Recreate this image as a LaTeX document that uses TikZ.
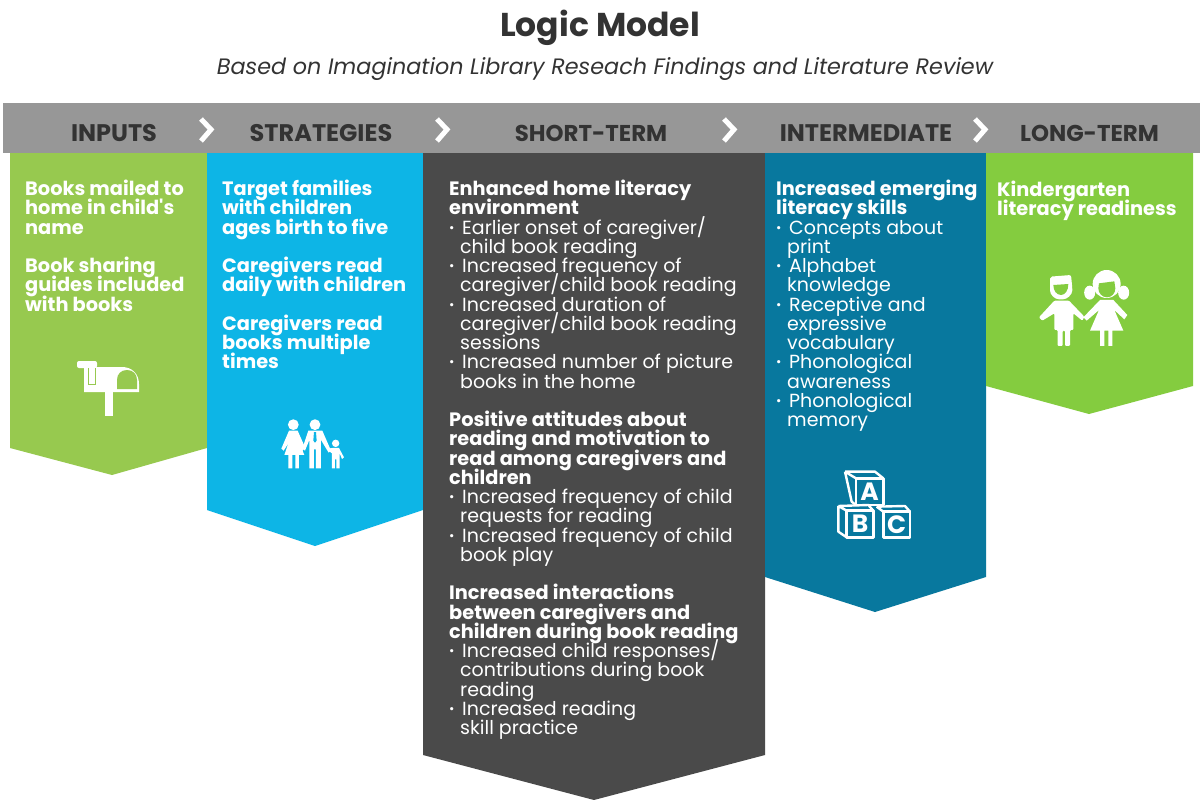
\documentclass[tikz,border=0pt]{standalone}
\usepackage{fontspec}
\setmainfont{Poppins}[Ligatures=TeXOff]
\definecolor{barc}{HTML}{979797}
\definecolor{greena}{HTML}{97C94F}
\definecolor{bluea}{HTML}{0DB5E6}
\definecolor{darka}{HTML}{4A4A4A}
\definecolor{teala}{HTML}{08789E}
\definecolor{greenb}{HTML}{84CC3F}
\definecolor{headc}{HTML}{333333}
\newcommand{\bodyf}{\fontsize{19}{19.25}\selectfont\lineskiplimit=-100pt\lineskip=0pt}
\newcommand{\bb}{\fontsize{19.35}{19.25}\selectfont\bfseries}
\newcommand{\bl}{\makebox[13pt][l]{\raisebox{2pt}{\fontsize{13}{13}\selectfont\textbullet}}}
\newcommand{\hg}{\hspace*{11pt}}
\tikzset{
  head/.style={font=\fontsize{24}{26}\selectfont\bfseries,text=headc,inner sep=0,anchor=center},
  headn/.style={head,font=\fontsize{22.9}{26}\selectfont\bfseries},
  col/.style={text=white,inner sep=0,anchor=north west,align=left,font=\bodyf},
  chev/.style={draw=white,line width=5pt,miter limit=10},
  blk/.style={draw=white,line width=2.4pt,line join=round,fill=none},
  letter/.style={text=white,inner sep=0,font=\fontsize{25}{25}\selectfont\bfseries}
}
\begin{document}
\begin{tikzpicture}[x=1pt,y=-1pt]
\useasboundingbox (0,0) rectangle (1200,800);
\fill[white] (0,0) rectangle (1200,800);
% columns
\fill[greena] (10,153) -- (207,153) -- (207,448) -- (112,475) -- (10,448) -- cycle;
\fill[bluea] (207,153) -- (423,153) -- (423,510) -- (315,546) -- (207,510) -- cycle;
\fill[darka] (423,153) -- (765,153) -- (765,755) -- (594,800) -- (423,755) -- cycle;
\fill[teala] (765,153) -- (986,153) -- (986,577) -- (875,612) -- (765,577) -- cycle;
\fill[greenb] (986,153) -- (1193,153) -- (1193,386) -- (1089,414) -- (986,386) -- cycle;
\fill[barc] (3,103) rectangle (1200,153);
% title
\node[inner sep=0,font=\fontsize{33}{35}\selectfont\bfseries,text=headc] (title) at (600,28) {Logic Model};
\node[inner sep=0,font=\fontsize{22.3}{24}\selectfont\itshape,text=headc] (sub) at (605,69) {Based on Imagination Library Reseach Findings and Literature Review};
% headers
\node[head] (h1) at (114,133) {INPUTS};
\node[head] (h2) at (321,133) {STRATEGIES};
\node[headn] (h3) at (591,133) {SHORT-TERM};
\node[head] (h4) at (866,133) {INTERMEDIATE};
\node[headn] (h5) at (1089.5,133) {LONG-TERM};
% chevrons
\foreach \cx in {201,437,724,975} \draw[chev] (\cx,119) -- (\cx+10,129.5) -- (\cx,141);
% texts
\node[col] (c1) at (25,180) {\bb Books mailed to\\\bb home in child's\\\bb name\\[19.25pt]\bb Book sharing\\\bb guides included\\\bb with books};
\node[col] (c2) at (222,180) {\bb Target families\\\bb with children\\\bb ages birth to five\\[19.25pt]\bb Caregivers read\\\bb daily with children\\[19.25pt]\bb Caregivers read\\\bb books multiple\\\bb times};
\node[col] (c3) at (449,180) {\bb Enhanced home literacy\\\bb environment\\
\bl Earlier onset of caregiver/\\\hg child book reading\\
\bl Increased frequency of\\\hg caregiver/child book reading\\
\bl Increased duration of\\\hg caregiver/child book reading\\\hg sessions\\
\bl Increased number of picture\\\hg books in the home\\[19.25pt]
\bb Positive attitudes about\\\bb reading and motivation to\\\bb read among caregivers and\\\bb children\\
\bl Increased frequency of child\\\hg requests for reading\\
\bl Increased frequency of child\\\hg book play\\[19.25pt]
\bb Increased interactions\\\bb between caregivers and\\\bb children during book reading\\
\bl Increased child responses/\\\hg contributions during book\\\hg reading\\
\bl Increased reading\\\hg skill practice};
\node[col] (c4) at (776,180) {\bb Increased emerging\\\bb literacy skills\\
\bl Concepts about\\\hg print\\
\bl Alphabet\\\hg knowledge\\
\bl Receptive and\\\hg expressive\\\hg vocabulary\\
\bl Phonological\\\hg awareness\\
\bl Phonological\\\hg memory};
\node[col] (c5) at (997,181) {\bb Kindergarten\\\bb literacy readiness};
% mailbox
\fill[white,rounded corners=2pt] (77,361) rectangle (97,368);
\fill[white] (84,367) -- (122,367) .. controls (132,367) and (139,374) .. (139,384) -- (139,392) -- (84,392) -- cycle;
\fill[greena] (117,389) -- (117,380) .. controls (117,374) and (121,370) .. (127,370) .. controls (133,370) and (137,374) .. (137,380) -- (137,389) -- cycle;
\fill[white] (105,392) rectangle (113,416);
\draw[greena,line width=1pt] (88,368) -- (88,384) -- (95.5,384) -- (95.5,368);
% family
\begin{scope}[shift={(265,410)},x=0.3333pt,y=-0.3333pt]
\fill[white] (85,44) circle (5.4pt);
\fill[white] (72,62) -- (98,62) -- (120,112) -- (113,122) -- (104,100) -- (118,135) -- (102,135) -- (102,175) -- (91,175) -- (91,135) -- (82,135) -- (82,175) -- (70,175) -- (70,135) -- (58,135) -- (70,100) -- (56,122) -- (49,116) -- cycle;
\fill[white] (150,44) circle (5.4pt);
\fill[white] (130,62) -- (172,62) -- (198,122) -- (191,128) -- (168,90) -- (168,175) -- (153,175) -- (153,118) -- (147,118) -- (147,175) -- (133,175) -- (133,90) -- (120,122) -- (112,116) -- cycle;
\fill[bluea] (147,66) -- (153,66) -- (155,92) -- (150,98) -- (145,92) -- cycle;
\fill[white] (212,100) circle (3.7pt);
\fill[white] (202,114) -- (222,114) -- (237,142) -- (231,147) -- (224,130) -- (224,175) -- (214,175) -- (214,148) -- (210,148) -- (210,175) -- (201,175) -- (201,130) -- (190,122) -- (194,115) -- cycle;
\end{scope}
% blocks
\begin{scope}[shift={(820,460)},x=0.3333pt,y=-0.3333pt]
\draw[blk] (108,55) rectangle (190,135);
\draw[blk] (75,35) -- (165,35) -- (190,55) (75,35) -- (108,55) (75,35) -- (95,125) -- (108,135);
\draw[blk] (80,152) rectangle (160,232);
\draw[blk] (55,138) -- (145,135) -- (160,152) (55,138) -- (80,152) (55,138) -- (55,215) -- (80,232);
\draw[blk] (190,155) rectangle (270,232);
\draw[blk] (170,140) -- (255,138) -- (270,155) (170,140) -- (190,155);
\node[letter] (la) at (149,95) {A};
\node[letter] (lb) at (120,192) {B};
\node[letter] (lc) at (230,193) {C};
\end{scope}
% kids
\begin{scope}[shift={(1025,260)},x=0.3333pt,y=-0.3333pt]
% boy
\fill[white,rounded corners=2pt] (75,50) -- (138,45) -- (142,85) .. controls (142,105) and (125,118) .. (108,118) .. controls (90,118) and (75,105) .. (75,85) -- cycle;
\fill[greenb] (85,75) -- (130,72) .. controls (130,92) and (120,105) .. (108,105) .. controls (95,105) and (85,92) .. cycle;
\fill[white,rounded corners=1pt] (88,122) -- (132,122) -- (178,170) -- (172,182) -- (145,160) -- (145,210) -- (135,210) -- (135,258) -- (120,258) -- (120,212) -- (113,212) -- (113,258) -- (98,258) -- (98,210) -- (88,210) -- (88,160) -- (52,182) -- (42,172) -- cycle;
% girl
\fill[white] (245,72) circle (14pt);
\fill[white] (194,98) ellipse (5.5pt and 7pt);
\fill[white] (296,98) ellipse (5.5pt and 7pt);
\fill[greenb] (222,70) -- (268,64) -- (271,85) .. controls (271,100) and (260,112) .. (246,112) .. controls (232,112) and (220,100) .. (220,85) -- cycle;
\fill[white] (225,120) -- (265,120) -- (307,165) -- (298,178) -- (268,150) -- (295,212) -- (262,212) -- (262,258) -- (250,258) -- (250,212) -- (238,212) -- (238,258) -- (225,258) -- (225,212) -- (195,212) -- (222,150) -- (185,182) -- (175,172) -- cycle;
\end{scope}
\end{tikzpicture}
\end{document}
